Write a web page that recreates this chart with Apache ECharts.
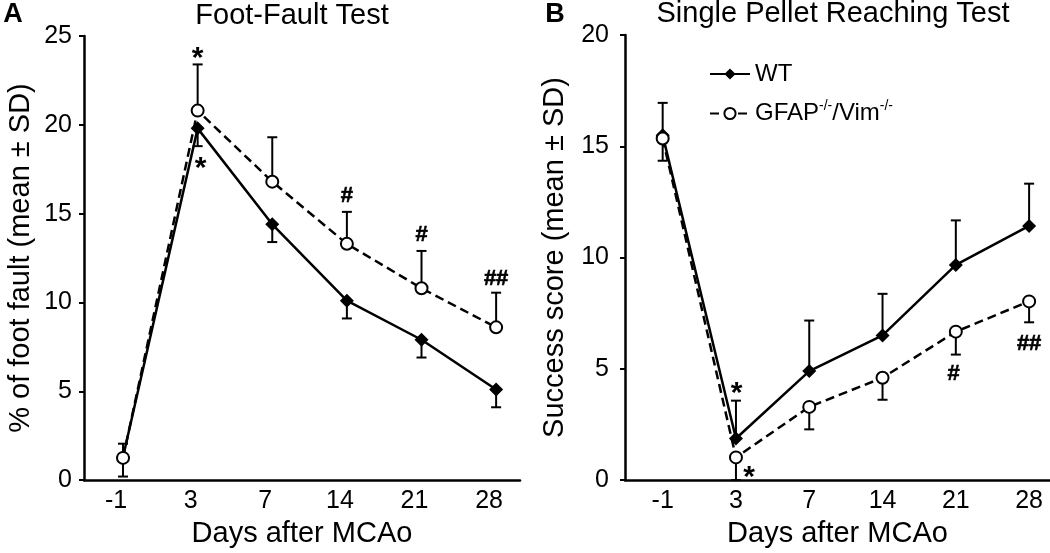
<!DOCTYPE html>
<html>
<head>
<meta charset="utf-8">
<script src="https://cdn.jsdelivr.net/npm/echarts@6/dist/echarts.min.js"></script>
<style>
html,body{margin:0;padding:0;background:#fff;}
#c{width:1050px;height:553px;}
</style>
</head>
<body>
<div id="c"></div>
<script>
// ---------- data ----------
const days = ['-1', '3', '7', '14', '21', '28'];

// Panel A: Foot-Fault Test (% of foot fault)
const ffWT       = [1.3, 19.8, 14.4, 10.1, 7.9, 5.1];
const ffWTsd     = [1.1, 1.0, 1.0, 1.0, 1.0, 1.0];
const ffGFAP     = [1.25, 20.8, 16.8, 13.3, 10.8, 8.6];
const ffGFAPsd   = [0.8, 2.6, 2.5, 1.8, 2.1, 1.95];
const ffMarkX    = [1, 1.04, 3, 4, 5];
const ffMarkY    = [24.1, 17.9, 16.0, 13.8, 11.3];
const ffMarkText = ['*', '*', '#', '#', '##'];

// Panel B: Single Pellet Reaching Test (success score)
const spWT       = [15.5, 1.87, 4.9, 6.5, 9.67, 11.42];
const spWTsd     = [1.45, 1.7, 2.27, 1.87, 2.0, 1.9];
const spGFAP     = [15.35, 1.02, 3.29, 4.6, 6.67, 8.03];
const spGFAPsd   = [1.0, 1.02, 1.01, 0.99, 1.03, 0.94];
const spMarkX    = [1.01, 1.18, 3.97, 5];
const spMarkY    = [4.18, 0.4, 4.78, 6.12];
const spMarkText = ['*', '*', '#', '##'];

const FONT = '"Liberation Sans", Arial, sans-serif';

function pts(arr) { return arr.map((v, i) => [i, v]); }

function errSeries(gi, means, sds, dir, name) {
  return {
    type: 'custom',
    name: name + '_err',
    xAxisIndex: gi, yAxisIndex: gi,
    z: 1,
    silent: true,
    encode: { x: 0, y: [1] },
    data: means.map((m, i) => [i, m, sds[i]]),
    renderItem: function (params, api) {
      const x = api.value(0), m = api.value(1), s = api.value(2);
      const p0 = api.coord([x, m]);
      const p1 = api.coord([x, m + dir * s]);
      const hw = 5;
      const st = { stroke: '#000', lineWidth: 2 };
      return {
        type: 'group',
        children: [
          { type: 'line', shape: { x1: p0[0], y1: p0[1], x2: p1[0], y2: p1[1] }, style: st },
          { type: 'line', shape: { x1: p1[0] - hw, y1: p1[1], x2: p1[0] + hw, y2: p1[1] }, style: st }
        ]
      };
    }
  };
}

function lineSeries(gi, vals, name, isWT, z) {
  return {
    type: 'line',
    name: name,
    xAxisIndex: gi, yAxisIndex: gi,
    data: pts(vals),
    z: z,
    symbol: isWT ? 'diamond' : 'circle',
    symbolSize: isWT ? [14, 14] : 12,
    showSymbol: true,
    lineStyle: { color: '#000', width: 2.5, type: isWT ? 'solid' : [9, 5] },
    itemStyle: isWT ? { color: '#000', borderColor: '#000', borderWidth: 0 }
                    : { color: '#fff', borderColor: '#000', borderWidth: 2 },
    emphasis: { disabled: true },
    animation: false
  };
}

function markSeries(gi, xs, ys, texts) {
  return {
    type: 'custom',
    xAxisIndex: gi, yAxisIndex: gi,
    silent: true,
    z: 5,
    encode: { x: 0, y: 1 },
    data: xs.map((x, i) => [x, ys[i], i]),
    renderItem: function (params, api) {
      const p = api.coord([api.value(0), api.value(1)]);
      const t = texts[params.dataIndex];
      const isAst = t === '*';
      return {
        type: 'text',
        x: p[0], y: p[1] + (isAst ? 7 : 0),
        style: {
          text: t,
          font: 'bold ' + (isAst ? 30 : 22) + 'px ' + FONT,
          fill: '#000',
          stroke: isAst ? null : '#000',
          lineWidth: isAst ? 0 : 0.6,
          textAlign: 'center',
          textVerticalAlign: 'middle'
        }
      };
    }
  };
}

function xAxisCfg(gi, min, max, labelPad) {
  return {
    type: 'value',
    gridIndex: gi,
    min: min, max: max,
    name: 'Days after MCAo',
    nameLocation: 'middle',
    nameGap: 38,
    nameTextStyle: { fontFamily: FONT, fontSize: 29, color: '#000' },
    axisLine: { show: true, onZero: false, lineStyle: { color: '#000', width: 2.5 } },
    axisTick: { show: false },
    splitLine: { show: false },
    axisLabel: {
      customValues: [0, 1, 2, 3, 4, 5],
      formatter: v => days[Math.round(v)],
      fontFamily: FONT, fontSize: 25, color: '#000', margin: 9,
      padding: labelPad
    }
  };
}

function yAxisCfg(gi, max, name, gap, margin) {
  return {
    type: 'value',
    gridIndex: gi,
    min: 0, max: max, interval: 5,
    name: name,
    nameLocation: 'middle',
    nameGap: gap,
    nameTextStyle: { fontFamily: FONT, fontSize: 29, color: '#000' },
    axisLine: { show: true, onZero: false, lineStyle: { color: '#000', width: 2.5 } },
    axisTick: { show: true, length: 5, lineStyle: { color: '#000', width: 2 } },
    splitLine: { show: false },
    axisLabel: { fontFamily: FONT, fontSize: 25, color: '#000', margin: margin }
  };
}

const chart = echarts.init(document.getElementById('c'), null, { renderer: 'canvas' });

chart.setOption({
  backgroundColor: '#fff',
  animation: false,
  grid: [
    { left: 84, top: 36, width: 436, height: 446, containLabel: false },
    { left: 625, top: 35, width: 425, height: 447, containLabel: false }
  ],
  xAxis: [ xAxisCfg(0, -0.523, 5.32, [0, 14, 0, 0]), xAxisCfg(1, -0.514, 5.285, [0, 0, 0, 0]) ],
  yAxis: [
    yAxisCfg(0, 25, '% of foot fault (mean \u00b1 SD)', 49, 12),
    yAxisCfg(1, 20, 'Success score (mean \u00b1 SD)', 56, 16)
  ],
  legend: {
    left: 704, top: 57,
    orient: 'vertical',
    itemWidth: 40, itemHeight: 14,
    itemGap: 13,
    data: ['WT', 'GFAP'],
    selectedMode: false,
    formatter: n => n === 'WT' ? '{n|WT}' : '{n|GFAP}{s|-/-}{n|/Vim}{s|-/-}',
    textStyle: {
      fontFamily: FONT, color: '#000',
      rich: {
        n: { fontFamily: FONT, fontSize: 24, color: '#000', lineHeight: 29 },
        s: { fontFamily: FONT, fontSize: 14, color: '#000', lineHeight: 15, verticalAlign: 'top' }
      }
    }
  },
  graphic: [
    { type: 'text', x: 13, y: 15, style: { text: 'A', font: 'bold 27px ' + FONT, fill: '#000', textAlign: 'center', textVerticalAlign: 'middle' } },
    { type: 'text', x: 555, y: 15, style: { text: 'B', font: 'bold 27px ' + FONT, fill: '#000', textAlign: 'center', textVerticalAlign: 'middle' } },
    { type: 'text', x: 292, y: 16, style: { text: 'Foot-Fault Test', font: '29px ' + FONT, fill: '#000', textAlign: 'center', textVerticalAlign: 'middle' } },
    { type: 'text', x: 833, y: 14, style: { text: 'Single Pellet Reaching Test', font: '29px ' + FONT, fill: '#000', textAlign: 'center', textVerticalAlign: 'middle' } }
  ],
  series: [
    errSeries(0, ffWT, ffWTsd, -1, 'WT'),
    errSeries(0, ffGFAP, ffGFAPsd, 1, 'GFAP'),
    lineSeries(0, ffWT, 'WT', true, 3),
    lineSeries(0, ffGFAP, 'GFAP', false, 4),
    markSeries(0, ffMarkX, ffMarkY, ffMarkText),
    errSeries(1, spWT, spWTsd, 1, 'WT'),
    errSeries(1, spGFAP, spGFAPsd, -1, 'GFAP'),
    lineSeries(1, spWT, 'WT', true, 3),
    lineSeries(1, spGFAP, 'GFAP', false, 4),
    markSeries(1, spMarkX, spMarkY, spMarkText)
  ]
});
</script>
</body>
</html>
